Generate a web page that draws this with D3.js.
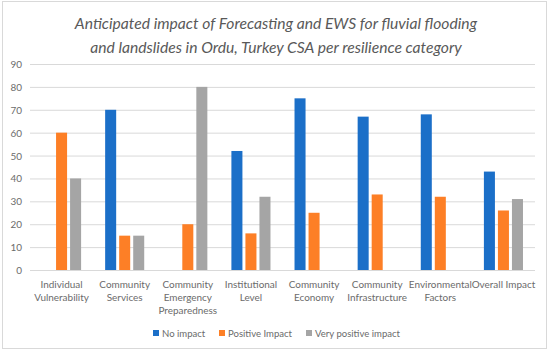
<!DOCTYPE html>
<html><head><meta charset="utf-8">
<script src="https://cdn.jsdelivr.net/npm/d3@7"></script>
<style>body{margin:0;background:#fff}svg{display:block}</style>
</head><body>
<svg id="c" width="550" height="352"></svg>
<script>
const categories = [["Individual","Vulnerability"],["Community","Services"],["Community","Emergency","Preparedness"],["Institutional","Level"],["Community","Economy"],["Community","Infrastructure"],["Environmental","Factors"],["Overall Impact"]];
const seriesNames = ["No impact","Positive Impact","Very positive impact"];
const noImpact = [0,70,0,52,75,67,68,43];
const positiveImpact = [60,15,20,16,25,33,32,26];
const veryPositiveImpact = [40,15,80,32,0,0,0,31];
const yTicks = [0,10,20,30,40,50,60,70,80,90];
const colors = ["#1b6fc8","#fd7f26","#a5a5a5"];
const titleLines = ["Anticipated impact of Forecasting and EWS for fluvial flooding","and landslides in Ordu, Turkey CSA per resilience category"];

const svg = d3.select("#c");
const font = "Lato, 'Open Sans', sans-serif";
const txtColor = "#6b6b6b";

// measure helper to fit reference text widths
function fitSize(text, target, opts) {
  const t = svg.append("text").attr("font-family",font).attr("font-size",20)
    .attr("font-style",opts && opts.italic ? "italic" : "normal").text(text);
  const w = t.node().getComputedTextLength();
  t.remove();
  return 20 * target / w;
}
const titleSize = fitSize(titleLines[0], 403, {italic:true});
const catSize = fitSize("Environmental", 63);
const legSize = fitSize("Very positive impact", 85);
const tickSize = fitSize("90", 11.5);

svg.append("rect").attr("x",2.5).attr("y",1.5).attr("width",544).attr("height",347)
  .attr("fill","#fff").attr("stroke","#d9d9d9");

svg.selectAll("text.title").data(titleLines).join("text")
  .attr("x",276).attr("y",(d,i)=>29+i*24).attr("text-anchor","middle")
  .attr("font-family",font).attr("font-style","italic").attr("font-size",titleSize)
  .attr("fill","#595959").text(d=>d);

const x0 = d3.scaleBand().domain(d3.range(categories.length)).range([30,535]);
const y = d3.scaleLinear().domain([0,90]).range([270,64]);
const x1 = d3.scaleBand().domain(d3.range(3)).range([0,x0.bandwidth()]).paddingInner(0.214).paddingOuter(0.857);

const g = svg.append("g");
g.selectAll("line.grid").data(yTicks).join("line")
  .attr("x1",30).attr("x2",535).attr("y1",d=>y(d)+0.5).attr("y2",d=>y(d)+0.5)
  .attr("stroke","#d9d9d9").attr("stroke-width",1);
g.selectAll("text.yt").data(yTicks).join("text")
  .attr("x",22).attr("y",d=>y(d)+4).attr("text-anchor","end")
  .attr("font-family",font).attr("font-size",tickSize).attr("fill",txtColor).text(d=>d);

const series = [noImpact,positiveImpact,veryPositiveImpact];
series.forEach((vals,s)=>{
  g.selectAll("rect.s"+s).data(vals).join("rect")
    .attr("x",(d,i)=>x0(i)+x1(s)).attr("width",x1.bandwidth())
    .attr("y",d=>y(d)).attr("height",d=>y(0)-y(d))
    .attr("fill",colors[s]);
});

const lab = g.selectAll("text.cat").data(categories).join("text")
  .attr("text-anchor","middle").attr("font-family",font).attr("font-size",catSize).attr("fill",txtColor);
lab.each(function(d,i){
  d3.select(this).selectAll("tspan").data(d).join("tspan")
    .attr("x",x0(i)+x0.bandwidth()/2).attr("y",(t,j)=>288+j*13).text(t=>t);
});

const legX = [153,219,306];
const leg = svg.selectAll("g.leg").data(seriesNames).join("g")
  .attr("transform",(d,i)=>`translate(${legX[i]},337)`);
leg.append("rect").attr("x",0).attr("y",-7).attr("width",6).attr("height",6).attr("fill",(d,i)=>colors[i]);
leg.append("text").attr("x",9).attr("y",0).attr("font-family",font).attr("font-size",legSize)
  .attr("fill",txtColor).text(d=>d);
</script>
</body></html>
